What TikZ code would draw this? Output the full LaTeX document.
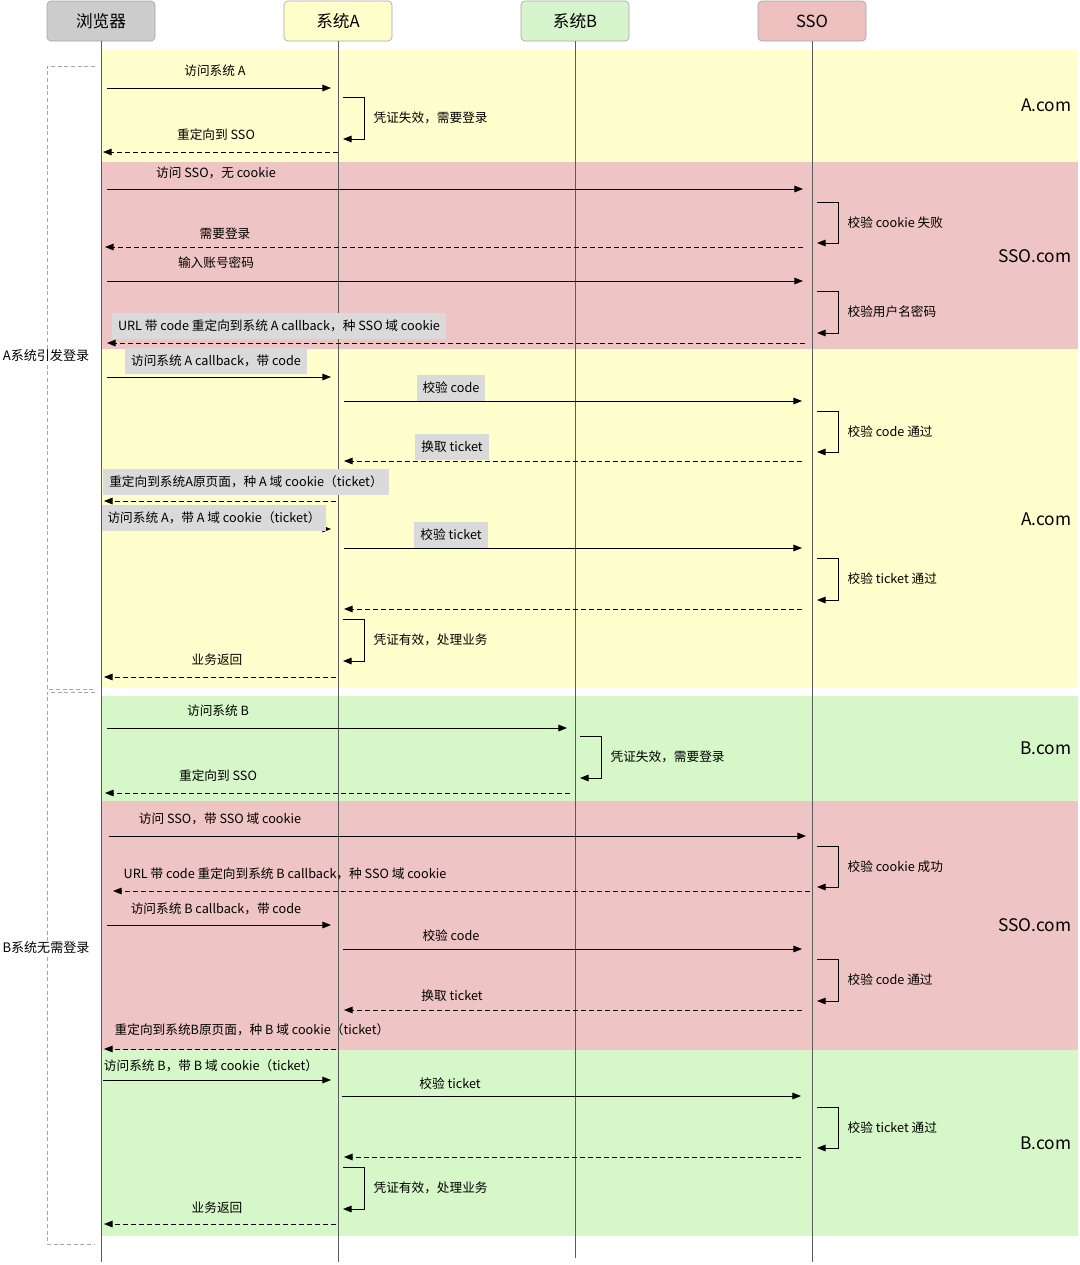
\documentclass[tikz,border=0pt]{standalone}
\usepackage{fontspec}
\setmainfont{Noto Sans CJK SC}
\usetikzlibrary{arrows.meta, positioning}
\definecolor{bandyellow}{RGB}{255,255,205}
\definecolor{bandred}{RGB}{239,196,196}
\definecolor{bandgreen}{RGB}{214,247,200}
\definecolor{headgray}{RGB}{204,204,204}
\definecolor{headyellow}{RGB}{255,255,204}
\definecolor{headgreen}{RGB}{214,245,204}
\definecolor{headred}{RGB}{238,192,192}
\definecolor{tagbg}{RGB}{218,218,218}
\definecolor{lifegray}{RGB}{90,90,90}
\tikzset{
  head/.style={
    rectangle, rounded corners=3pt, minimum width=81pt,
    minimum height=30pt, draw=gray!70, line width=0.5pt,
    font=\fontsize{12.5}{14}\selectfont
  },
  life/.style={draw=lifegray, line width=0.5pt},
  msg/.style={-{Triangle[length=6.5pt,width=5pt]}, line width=0.7pt},
  ret/.style={msg, dash pattern=on 3.5pt off 2.5pt},
  lbl/.style={font=\fontsize{9.5}{11}\selectfont, inner sep=1pt},
  tag/.style={lbl, fill=tagbg, inner xsep=4.5pt, minimum height=19pt},
  loopnote/.style={lbl, anchor=west},
  domainlbl/.style={font=\fontsize{13}{15}\selectfont, anchor=east},
  group/.style={draw=gray!70, dash pattern=on 3pt off 2pt, line width=0.5pt},
  grouplbl/.style={font=\fontsize{9.8}{12}\selectfont, fill=white, inner sep=1pt}
}

\begin{document}
\begin{tikzpicture}[x=0.75pt, y=-0.75pt]
  \useasboundingbox (0,0) rectangle (1080,1265);

  % domain bands
  \foreach \ya/\yb/\col/\dom/\dy [count=\b] in {
      50/162/bandyellow/A.com/105,
      162/349/bandred/SSO.com/256,
      349/688/bandyellow/A.com/519,
      696/801/bandgreen/B.com/748,
      801/1050/bandred/SSO.com/925,
      1050/1236/bandgreen/B.com/1143}{
    \fill[\col] (101,\ya) rectangle (1078,\yb);
    \node[domainlbl] (dom\b) at (1076,\dy) {\dom};
  }

  % participants
  \node[head, fill=headgray]   (brw) at (101,21) {浏览器};
  \node[head, fill=headyellow] (sysa) at (338,21) {系统A};
  \node[head, fill=headgreen]  (sysb) at (575,21) {系统B};
  \node[head, fill=headred]    (sso) at (812,21) {SSO};

  \coordinate (bottom) at (0,1262);
  \coordinate (bottomb) at (0,1258);
  \draw[life] (brw.south)  -- (brw.south |- bottom);
  \draw[life] (sysa.south) -- (sysa.south |- bottom);
  \draw[life] (sysb.south) -- (sysb.south |- bottomb);
  \draw[life] (sso.south)  -- (sso.south |- bottom);

  % scenario groups
  \draw[group] (95,66) -- (47,66) -- (47,689) -- (95,689);
  \draw[group] (95,692) -- (47,692) -- (47,1244) -- (95,1244);
  \node[grouplbl] (grpa) at (46,356) {A系统引发登录};
  \node[grouplbl] (grpb) at (46,948) {B系统无需登录};

  % messages
  \foreach \yy/\xs/\xe/\sty/\lx/\ly/\lsty/\txt [count=\i] in {
      88/107/331/msg/215/71/lbl/访问系统 A,
      152/338/103/ret/216/135/lbl/重定向到 SSO,
      189/107/803/msg/216/173/lbl/访问 SSO，无 cookie,
      247/803/105/ret/225/234/lbl/需要登录,
      281/107/803/msg/216/263/lbl/输入账号密码,
      343/805/107/ret/279/326/tag/URL 带 code 重定向到系统 A callback，种 SSO 域 cookie,
      377/107/331/msg/216/361/tag/访问系统 A callback，带 code,
      401/344/802/msg/451/388/tag/校验 code,
      461/802/344/ret/452/447/tag/换取 ticket,
      501/336/104/ret/246/482/tag/重定向到系统A原页面，种 A 域 cookie（ticket）,
      529/103/331/msg/214/518/tag/访问系统 A，带 A 域 cookie（ticket）,
      548/344/802/msg/451/535/tag/校验 ticket,
      609/802/344/ret/573/609/lbl/{},
      677/336/104/ret/217/660/lbl/业务返回,
      728/107/567/msg/218/711/lbl/访问系统 B,
      793/570/105/ret/218/776/lbl/重定向到 SSO,
      836/109/806/msg/220/819/lbl/访问 SSO，带 SSO 域 cookie,
      891/810/113/ret/285/874/lbl/URL 带 code 重定向到系统 B callback，种 SSO 域 cookie,
      925/107/331/msg/216/909/lbl/访问系统 B callback，带 code,
      949/343/802/msg/451/936/lbl/校验 code,
      1010/802/344/ret/452/996/lbl/换取 ticket,
      1049/336/104/ret/252/1030/lbl/重定向到系统B原页面，种 B 域 cookie（ticket）,
      1080/103/331/msg/211/1066/lbl/访问系统 B，带 B 域 cookie（ticket）,
      1096/342/801/msg/450/1084/lbl/校验 ticket,
      1157/801/344/ret/573/1157/lbl/{},
      1224/336/104/ret/217/1208/lbl/业务返回}{
    \coordinate (s\i) at (\xs,\yy);
    \coordinate (e\i) at (\xe,\yy);
    \draw[\sty] (s\i) -- (e\i);
    \node[\lsty] (t\i) at (\lx,\ly) {\txt};
  }

  % self calls
  \foreach \lx/\ya/\yb/\txt [count=\k] in {
      338/97/139/凭证失效，需要登录,
      812/202/243/校验 cookie 失败,
      812/291/333/校验用户名密码,
      812/411/452/校验 code 通过,
      812/558/600/校验 ticket 通过,
      338/619/661/凭证有效，处理业务,
      575/736/778/凭证失效，需要登录,
      812/846/887/校验 cookie 成功,
      812/959/1001/校验 code 通过,
      812/1107/1148/校验 ticket 通过,
      338/1167/1209/凭证有效，处理业务}{
    \coordinate (ls\k) at (\lx+5,\ya);
    \coordinate (le\k) at (\lx+5,\yb);
    \draw[msg] (ls\k) -- ++(21,0) |- (le\k);
    \node[loopnote] (ln\k) at (\lx+34,{(\ya+\yb)/2}) {\txt};
  }
\end{tikzpicture}
\end{document}
